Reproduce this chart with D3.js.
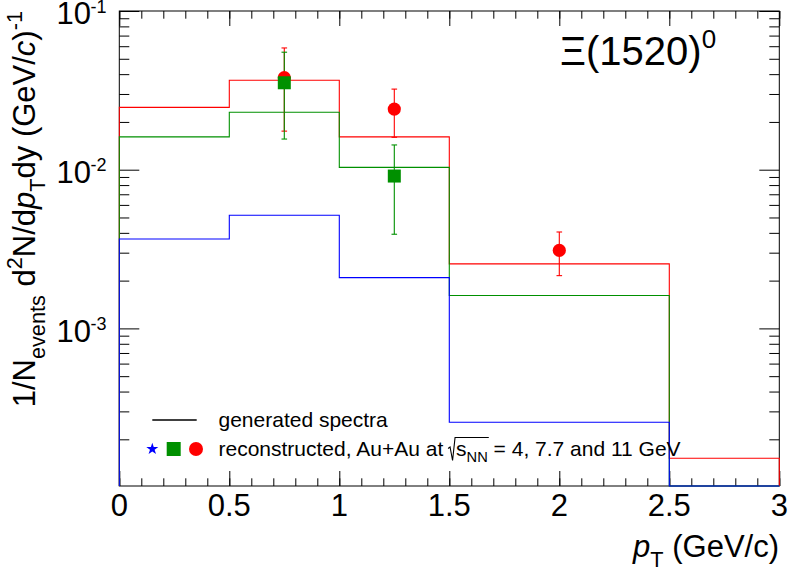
<!DOCTYPE html>
<html><head><meta charset="utf-8">
<script src="https://cdn.jsdelivr.net/npm/d3@7"></script>
<style>
body{margin:0;background:#fff}
svg{display:block}
text{font-family:"Liberation Sans",Arial,Helvetica,sans-serif;fill:#000}
</style>
</head><body>
<svg id="c" width="796" height="572"></svg>
<script>
// ---------------- data ----------------
const binEdges = [0, 0.5, 1, 1.5, 2.5, 3];
const genRed   = [0.0247, 0.0366, 0.0161, 0.00255, 0.000152];   // 11 GeV generated
const genGreen = [0.0161, 0.0230, 0.01035, 0.00161, 0];         // 7.7 GeV generated
const genBlue  = [0.00366, 0.00516, 0.00209, 0.000256, 0];      // 4 GeV generated
const recoPt     = [0.75, 1.25, 2.0];
const recoRed    = [0.038, 0.0241, 0.0031];
const recoRedErr = [0.0205, 0.0081, 0.00095];
const recoGreenPt  = [0.75, 1.25];
const recoGreen    = [0.0353, 0.00912];
const recoGreenErr = [0.0197, 0.0052];
const xTicks = [0, 0.5, 1, 1.5, 2, 2.5, 3];
const yTickExp = [-1, -2, -3];

// ---------------- layout ----------------
const X0 = 119.3, X1 = 779.3, Y0 = 11, Y1 = 486;
const yMin = 1.016e-4, yMax = 0.1;
const RED = "#ff0000", GREEN = "#009000", BLUE = "#0000ff";
const svg = d3.select("#c");
const x = d3.scaleLinear().domain([0, 3]).range([X0, X1]);
const y = d3.scaleLog().domain([yMin, yMax]).range([Y1, Y0]);

// rich text helper (sub/superscripts)
function rich(parent, parts, size, anchor) {
  const t = parent.append("text").attr("font-size", size).attr("text-anchor", anchor || "start");
  let off = 0;
  parts.forEach(p => {
    const s = typeof p === "string" ? {t: p} : p;
    const target = s.sub ? size * 0.32 : s.sup ? -size * 0.42 : 0;
    const ts = t.append("tspan").text(s.t).attr("dy", target - off);
    off = target;
    if (s.sub || s.sup) ts.attr("font-size", size * (s.scale || 0.7));
    if (s.it) ts.attr("font-style", "italic");
    if (s.dx) ts.attr("dx", s.dx);
  });
  return t;
}

// ---------------- frame ----------------
svg.append("rect").attr("x", X0).attr("y", Y0).attr("width", X1 - X0).attr("height", Y1 - Y0)
  .attr("fill", "none").attr("stroke", "#000").attr("stroke-width", 1);

// ---------------- axes (ticks) ----------------
const minorX = d3.range(0, 31).map(i => i / 10);
function noText(g){ g.select(".domain").remove(); g.selectAll("text").remove(); g.selectAll("line").attr("stroke","#000"); }
svg.append("g").attr("transform", `translate(0,${Y1})`)
  .call(d3.axisBottom(x).tickValues(xTicks).tickSize(-15)).call(noText);
svg.append("g").attr("transform", `translate(0,${Y1})`)
  .call(d3.axisBottom(x).tickValues(minorX).tickSize(-7.7)).call(noText);
svg.append("g").attr("transform", `translate(0,${Y0})`)
  .call(d3.axisTop(x).tickValues(xTicks).tickSize(-15)).call(noText);
svg.append("g").attr("transform", `translate(0,${Y0})`)
  .call(d3.axisTop(x).tickValues(minorX).tickSize(-7.7)).call(noText);

const majorY = yTickExp.map(e => Math.pow(10, e));
const minorY = [];
for (let e = -4; e < -1; e++) for (let k = 2; k <= 9; k++) minorY.push(k * Math.pow(10, e));
const minorYin = minorY.filter(v => v >= yMin && v <= yMax);
svg.append("g").attr("transform", `translate(${X0},0)`)
  .call(d3.axisLeft(y).tickValues(majorY).tickSize(-20)).call(noText);
svg.append("g").attr("transform", `translate(${X0},0)`)
  .call(d3.axisLeft(y).tickValues(minorYin).tickSize(-10)).call(noText);
svg.append("g").attr("transform", `translate(${X1},0)`)
  .call(d3.axisRight(y).tickValues(majorY).tickSize(-20)).call(noText);
svg.append("g").attr("transform", `translate(${X1},0)`)
  .call(d3.axisRight(y).tickValues(minorYin).tickSize(-10)).call(noText);

// tick labels
xTicks.forEach(v => {
  svg.append("text").attr("x", x(v)).attr("y", Y1 + 30).attr("font-size", 31)
    .attr("text-anchor", "middle").text(d3.format("")(v));
});
yTickExp.forEach(e => {
  const ty = y(Math.pow(10, e));
  svg.append("text").attr("x", 91).attr("y", ty + 13.4).attr("font-size", 31)
    .attr("text-anchor", "end").text("10");
  svg.append("text").attr("x", 90.5).attr("y", ty + 1.7).attr("font-size", 18)
    .attr("text-anchor", "start").text(String(e));
});

// axis titles
rich(svg, [{t: "p", it: true}, {t: "T", sub: true}, " (GeV/c)"], 31, "end")
  .attr("x", 779).attr("y", 557);
rich(svg.append("g").attr("transform", "translate(35,11) rotate(-90)"),
  ["1/N", {t: "events", sub: true}, " d", {t: "2", sup: true}, "N/d", {t: "p", it: true},
   {t: "T", sub: true}, "dy (GeV/", {t: "c", it: true}, ")", {t: "-1", sup: true}], 31, "end")
  .attr("x", 0).attr("y", 0);

// title
rich(svg, ["\u039E(1520)", {t: "0", sup: true, scale: 0.65}], 40, "start").attr("x", 560).attr("y", 65);

// ---------------- histograms ----------------
svg.append("clipPath").attr("id", "clip").append("rect")
  .attr("x", X0 - 1).attr("y", Y0 - 1).attr("width", X1 - X0 + 2).attr("height", Y1 - Y0 + 2);
const clampV = v => Math.max(yMin, Math.min(yMax, v));
function stepPoints(vals) {
  const pts = [[binEdges[0], yMin]];
  vals.forEach((v, i) => { pts.push([binEdges[i], clampV(v)]); pts.push([binEdges[i + 1], clampV(v)]); });
  pts.push([binEdges[binEdges.length - 1], yMin]);
  return pts;
}
const line = d3.line().x(d => x(d[0])).y(d => y(d[1]));
const hg = svg.append("g").attr("clip-path", "url(#clip)");
[[genRed, RED], [genGreen, GREEN], [genBlue, BLUE]].forEach(([vals, col]) => {
  hg.append("path").attr("d", line(stepPoints(vals))).attr("fill", "none")
    .attr("stroke", col).attr("stroke-width", 1.1);
});

// ---------------- reconstructed points ----------------
function errBars(pts, vals, errs, col) {
  const g = svg.append("g").attr("stroke", col).attr("stroke-width", 1.1);
  pts.forEach((p, i) => {
    const xp = x(p), yh = y(vals[i] + errs[i]), yl = y(vals[i] - errs[i]);
    g.append("line").attr("x1", xp).attr("x2", xp).attr("y1", yh).attr("y2", yl);
    g.append("line").attr("x1", xp - 2.8).attr("x2", xp + 2.8).attr("y1", yh).attr("y2", yh);
    g.append("line").attr("x1", xp - 2.8).attr("x2", xp + 2.8).attr("y1", yl).attr("y2", yl);
  });
}
errBars(recoPt, recoRed, recoRedErr, RED);
errBars(recoGreenPt, recoGreen, recoGreenErr, GREEN);
svg.append("g").selectAll("circle").data(recoPt).join("circle")
  .attr("cx", d => x(d)).attr("cy", (d, i) => y(recoRed[i])).attr("r", 6.6).attr("fill", RED);
svg.append("g").selectAll("rect").data(recoGreenPt).join("rect")
  .attr("x", d => x(d) - 6.5).attr("y", (d, i) => y(recoGreen[i]) - 6.5)
  .attr("width", 13).attr("height", 13).attr("fill", GREEN);

// ---------------- legend ----------------
svg.append("line").attr("x1", 152.3).attr("x2", 196.7).attr("y1", 420).attr("y2", 420)
  .attr("stroke", "#000").attr("stroke-width", 1.5);
svg.append("text").attr("x", 218.5).attr("y", 426.5).attr("font-size", 21).text("generated spectra");
svg.append("path").attr("d", d3.symbol(d3.symbolStar, 45)()).attr("transform", "translate(152.3,449)")
  .attr("fill", BLUE);
svg.append("rect").attr("x", 166.7).attr("y", 442).attr("width", 14).attr("height", 14).attr("fill", GREEN);
svg.append("circle").attr("cx", 196).attr("cy", 449).attr("r", 7).attr("fill", RED);
const pre = "reconstructed, Au+Au at ";
const lt = rich(svg, [pre, {t: "s", dx: 7}, {t: "NN", sub: true}, {t: " = 4, 7.7 and 11 GeV"}], 21, "start")
  .attr("x", 218.5).attr("y", 455.5);
{
  const node = lt.node();
  const iS = pre.length;
  const sx = node.getStartPositionOfChar(iS).x;
  const ex = node.getEndPositionOfChar(iS + 2).x;
  const b = 455.5;
  svg.append("path")
    .attr("d", `M${sx - 8},${b - 7} L${sx - 6},${b - 8.5} L${sx - 3.5},${b + 5} L${sx - 1},${b - 18} L${ex + 1},${b - 18}`)
    .attr("fill", "none").attr("stroke", "#000").attr("stroke-width", 1.1);
}
</script>
</body></html>
